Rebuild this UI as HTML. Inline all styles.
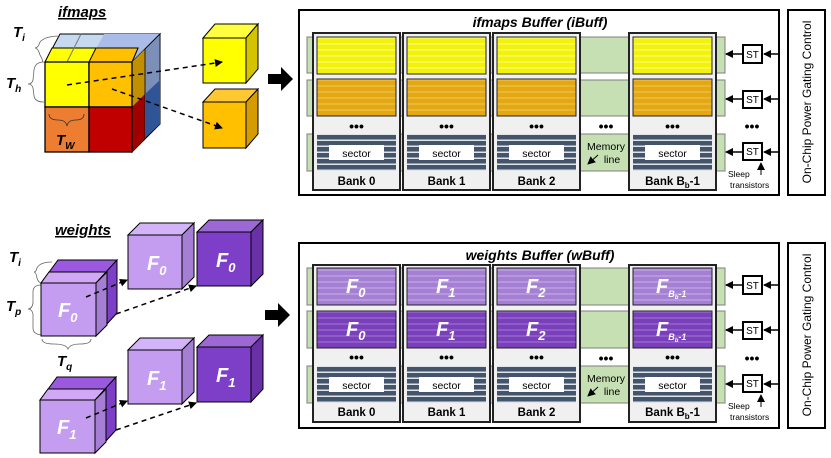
<!DOCTYPE html>
<html><head><meta charset="utf-8"><style>
html,body{margin:0;padding:0;background:#fff;}
svg{display:block;font-family:"Liberation Sans",sans-serif;}
.b{font-weight:bold;}
</style></head><body>
<svg width="831" height="458" viewBox="0 0 831 458" xmlns="http://www.w3.org/2000/svg">
<defs>
<pattern id="py" width="10" height="6" patternUnits="userSpaceOnUse"><rect width="10" height="6" fill="#f2f20a"/><rect y="4.5" width="10" height="1" fill="#fafa90"/></pattern>
<pattern id="po" width="10" height="6" patternUnits="userSpaceOnUse"><rect width="10" height="6" fill="#e4a812"/><rect y="4.5" width="10" height="1" fill="#f0c860"/></pattern>
<pattern id="pl" width="10" height="6" patternUnits="userSpaceOnUse"><rect width="10" height="6" fill="#a47fd4"/><rect y="4.5" width="10" height="1" fill="#c8b0e8"/></pattern>
<pattern id="pd" width="10" height="6" patternUnits="userSpaceOnUse"><rect width="10" height="6" fill="#7a3fba"/><rect y="4.5" width="10" height="1" fill="#a07ad4"/></pattern>
<pattern id="ps" width="10" height="6" patternUnits="userSpaceOnUse"><rect width="10" height="6" fill="#44546a"/><rect y="4.5" width="10" height="1.5" fill="#dfe4ea"/></pattern>
<marker id="ah" markerWidth="8" markerHeight="8" refX="7" refY="4" orient="auto" markerUnits="userSpaceOnUse"><path d="M0,0 L8,4 L0,8 z" fill="#000"/></marker>
</defs>

<!-- ===== IFMAPS CUBE ===== -->
<text x="58" y="17" font-size="15" font-style="italic" class="b" text-decoration="underline">ifmaps</text>
<!-- top face -->
<polygon points="45,62 60,34 160,34 132,62" fill="#c5d9f1" stroke="#000" stroke-width="1"/>
<polygon points="89,62 104,34 160,34 132,62" fill="#a9bde8"/>
<polygon points="45,62 52,48 138,48 132,62" fill="#ffff00" stroke="#000" stroke-width="1"/>
<polygon points="89,62 96,48 138,48 132,62" fill="#ffc000" stroke="#000" stroke-width="1"/>
<line x1="81" y1="34" x2="67" y2="62" stroke="#777"/>
<!-- right face -->
<polygon points="132,62 160,34 160,124 132,152" fill="#4f6fa5" stroke="#000" stroke-width="1"/>
<polygon points="132,62 145,49 145,138 132,152" fill="#c09000"/>
<polygon points="132,107 145,94 145,138 132,152" fill="#a00000"/>
<polygon points="145,49 160,34 160,124 145,138" fill="#7b8fb8" stroke="#000" stroke-width="0.8"/>
<polygon points="145,94 160,80 160,124 145,138" fill="#2f5597"/>
<!-- front -->
<rect x="45" y="62" width="44" height="45" fill="#ffff00" stroke="#000" stroke-width="1.3"/>
<rect x="89" y="62" width="43" height="45" fill="#ffc000" stroke="#000" stroke-width="1.3"/>
<rect x="45" y="107" width="44" height="45" fill="#ed7d31" stroke="#000" stroke-width="1.3"/>
<rect x="89" y="107" width="43" height="45" fill="#c00000" stroke="#000" stroke-width="1.3"/>
<text x="13" y="37" font-size="15" font-style="italic" class="b">T<tspan font-size="10" dy="4">i</tspan></text>
<text x="6" y="88" font-size="15" font-style="italic" class="b">T<tspan font-size="10" dy="4">h</tspan></text>
<text x="56" y="145" font-size="15" font-style="italic" class="b">T<tspan font-size="10" dy="4">W</tspan></text>
<path d="M60,36 Q45,36 40,42 Q38,48 35,48 Q38,48 40,55 Q44,62 42,62" fill="none" stroke="#666" stroke-width="0.8"/>
<path d="M44,62 Q35,62 34,70 L33,80 Q32,84 28,84 Q32,84 33,88 L34,96 Q35,102 44,102" fill="none" stroke="#666" stroke-width="0.8"/>
<path d="M49,114 Q49,120 58,120 Q66,120 67,126 Q68,120 76,120 Q84,120 84,114" fill="none" stroke="#333" stroke-width="0.8"/>
<!-- small cubes -->
<polygon points="203,38 215,24 258,24 246,38" fill="#ffff40" stroke="#000"/>
<polygon points="246,38 258,24 258,69 246,83" fill="#d4c400" stroke="#000"/>
<rect x="203" y="38" width="43" height="45" fill="#ffff00" stroke="#000"/>
<polygon points="203,102 215,89 258,89 246,102" fill="#ffc830" stroke="#000"/>
<polygon points="246,102 258,89 258,134 246,148" fill="#d49c00" stroke="#000"/>
<rect x="203" y="102" width="43" height="46" fill="#ffc000" stroke="#000"/>
<line x1="67" y1="85" x2="222" y2="62" stroke="#000" stroke-width="1.5" stroke-dasharray="5,4" marker-end="url(#ah)"/>
<line x1="112" y1="89" x2="222" y2="128" stroke="#000" stroke-width="1.5" stroke-dasharray="5,4" marker-end="url(#ah)"/>
<polygon points="268,74 281,74 281,67 293,79 281,91 281,84 268,84" fill="#000"/>

<!-- ===== WEIGHTS ===== -->
<text x="55" y="235" font-size="15" font-style="italic" class="b" text-decoration="underline">weights</text>
<text x="9" y="262" font-size="15" font-style="italic" class="b">T<tspan font-size="10" dy="4">i</tspan></text>
<text x="6" y="311" font-size="15" font-style="italic" class="b">T<tspan font-size="10" dy="4">p</tspan></text>
<text x="57" y="366" font-size="15" font-style="italic" class="b">T<tspan font-size="10" dy="4">q</tspan></text>
<path d="M52,262 Q40,262 37,268 Q36,272 34,272 Q36,272 37,278 Q38,282 41,283" fill="none" stroke="#666" stroke-width="0.8"/>
<path d="M41,285 Q33,285 33,292 L33,303 Q32,309 28,309 Q32,309 33,314 L33,328 Q33,334 41,335" fill="none" stroke="#666" stroke-width="0.8"/>
<path d="M42,339 Q42,344 54,344 Q66,344 68,349 Q70,344 80,344 Q91,344 91,339" fill="none" stroke="#666" stroke-width="0.8"/>
<!-- cube F0 big -->
<polygon points="41,283 58,260 117,260 96,283" fill="#9b59e0" stroke="#000"/>
<polygon points="41,283 49,272 107,272 96,283" fill="#d0a8f4" stroke="#000"/>
<polygon points="96,283 117,260 117,313 96,336" fill="#7e3fc8" stroke="#000"/>
<polygon points="96,283 107,272 107,325 96,336" fill="#a47fd4" stroke="#000"/>
<rect x="41" y="283" width="55" height="53" fill="#c49cf0" stroke="#000"/>
<text x="58" y="317" font-size="20" font-style="italic" class="b" fill="#fff">F<tspan font-size="13" dy="5">0</tspan></text>
<!-- cube F1 big -->
<polygon points="40,400 57,377 116,377 95,400" fill="#9b59e0" stroke="#000"/>
<polygon points="40,400 48,389 106,389 95,400" fill="#d0a8f4" stroke="#000"/>
<polygon points="95,400 116,377 116,430 95,453" fill="#7e3fc8" stroke="#000"/>
<polygon points="95,400 106,389 106,442 95,453" fill="#a47fd4" stroke="#000"/>
<rect x="40" y="400" width="55" height="53" fill="#c49cf0" stroke="#000"/>
<text x="57" y="434" font-size="20" font-style="italic" class="b" fill="#fff">F<tspan font-size="13" dy="5">1</tspan></text>
<!-- small F cubes -->
<g stroke="#000">
<polygon points="128,235 140,223 194,223 182,235" fill="#d4b4f8"/>
<polygon points="182,235 194,223 194,277 182,289" fill="#a47fd4"/>
<rect x="128" y="235" width="54" height="54" fill="#c49cf0"/>
<polygon points="197,232 209,220 263,220 251,232" fill="#9b68d4"/>
<polygon points="251,232 263,220 263,274 251,286" fill="#6a30a8"/>
<rect x="197" y="232" width="54" height="54" fill="#7e3fc8"/>
<polygon points="128,350 140,338 194,338 182,350" fill="#d4b4f8"/>
<polygon points="182,350 194,338 194,392 182,404" fill="#a47fd4"/>
<rect x="128" y="350" width="54" height="54" fill="#c49cf0"/>
<polygon points="197,347 209,335 263,335 251,347" fill="#9b68d4"/>
<polygon points="251,347 263,335 263,389 251,402" fill="#6a30a8"/>
<rect x="197" y="347" width="54" height="55" fill="#7e3fc8"/>
</g>
<text x="147" y="270" font-size="20" font-style="italic" class="b" fill="#fff">F<tspan font-size="13" dy="5">0</tspan></text>
<text x="216" y="267" font-size="20" font-style="italic" class="b" fill="#fff">F<tspan font-size="13" dy="5">0</tspan></text>
<text x="147" y="385" font-size="20" font-style="italic" class="b" fill="#fff">F<tspan font-size="13" dy="5">1</tspan></text>
<text x="216" y="382" font-size="20" font-style="italic" class="b" fill="#fff">F<tspan font-size="13" dy="5">1</tspan></text>
<g stroke="#000" stroke-width="1.5" stroke-dasharray="5,4" marker-end="url(#ah)">
<line x1="86" y1="297" x2="127" y2="280"/>
<line x1="116" y1="314" x2="196" y2="286"/>
<line x1="86" y1="418" x2="127" y2="401"/>
<line x1="116" y1="430" x2="196" y2="403"/>
</g>
<polygon points="265,310 278,310 278,303 290,315 278,327 278,320 265,320" fill="#000"/>

<!-- ===== BUFFERS ===== -->
<g id="top">
<rect x="299" y="10" width="480" height="185" fill="#fff" stroke="#000" stroke-width="2"/>
<text x="540" y="27" font-size="14" font-style="italic" class="b" text-anchor="middle">ifmaps Buffer (iBuff)</text>
<g fill="#c6e0b4" stroke="#7f7f7f" stroke-width="1">
<rect x="307" y="37" width="418" height="36"/><rect x="307" y="80" width="418" height="36"/><rect x="307" y="134" width="418" height="37"/>
</g>
<text x="606" y="131" font-size="14" class="b" text-anchor="middle">•••</text>
<text x="606" y="150" font-size="10.5" text-anchor="middle">Memory</text>
<text x="612" y="163" font-size="10.5" text-anchor="middle">line</text>
<line x1="598" y1="155" x2="588" y2="164" stroke="#000" marker-end="url(#ah)"/>
<text x="752" y="131" font-size="14" class="b" text-anchor="middle">•••</text>
<rect x="788" y="10" width="37" height="185" fill="#fff" stroke="#000" stroke-width="2"/>
<text transform="translate(811,102) rotate(-90)" font-size="12" text-anchor="middle">On-Chip Power Gating Control</text>
<g stroke="#000" stroke-width="1.5">
<line x1="779" y1="54" x2="764" y2="54" marker-end="url(#ah)"/><line x1="743" y1="54" x2="726" y2="54" marker-end="url(#ah)"/>
<line x1="779" y1="99" x2="764" y2="99" marker-end="url(#ah)"/><line x1="743" y1="99" x2="726" y2="99" marker-end="url(#ah)"/>
<line x1="779" y1="152" x2="764" y2="152" marker-end="url(#ah)"/><line x1="743" y1="152" x2="726" y2="152" marker-end="url(#ah)"/>
</g>
<g fill="#fff" stroke="#000" stroke-width="2"><rect x="743" y="45" width="19" height="18"/><rect x="743" y="91" width="19" height="17"/><rect x="743" y="143" width="19" height="17"/></g>
<text x="752.5" y="58" font-size="10" text-anchor="middle">ST</text><text x="752.5" y="103" font-size="10" text-anchor="middle">ST</text><text x="752.5" y="155" font-size="10" text-anchor="middle">ST</text>
<line x1="761" y1="175" x2="761" y2="163" stroke="#000" marker-end="url(#ah)"/>
<text x="728" y="177" font-size="8.5">Sleep</text><text x="730" y="188" font-size="8.5">transistors</text>
</g>
<!-- top banks -->
<g>
<g transform="translate(313,33)"><rect width="87" height="157" fill="#f0f0f0" stroke="#222" stroke-width="2"/><rect x="4" y="4" width="79" height="37" fill="url(#py)" stroke="#222"/><rect x="4" y="46" width="79" height="37" fill="url(#po)" stroke="#222"/><text x="43.5" y="98" font-size="14" class="b" text-anchor="middle">•••</text><rect x="4" y="101" width="79" height="37" fill="url(#ps)"/><rect x="16" y="112" width="55" height="15" fill="#fff"/><text x="43.5" y="124" font-size="10.5" text-anchor="middle">sector</text><text x="43.5" y="152" font-size="11.5" class="b" text-anchor="middle">Bank 0</text></g>
<g transform="translate(403,33)"><rect width="87" height="157" fill="#f0f0f0" stroke="#222" stroke-width="2"/><rect x="4" y="4" width="79" height="37" fill="url(#py)" stroke="#222"/><rect x="4" y="46" width="79" height="37" fill="url(#po)" stroke="#222"/><text x="43.5" y="98" font-size="14" class="b" text-anchor="middle">•••</text><rect x="4" y="101" width="79" height="37" fill="url(#ps)"/><rect x="16" y="112" width="55" height="15" fill="#fff"/><text x="43.5" y="124" font-size="10.5" text-anchor="middle">sector</text><text x="43.5" y="152" font-size="11.5" class="b" text-anchor="middle">Bank 1</text></g>
<g transform="translate(493,33)"><rect width="87" height="157" fill="#f0f0f0" stroke="#222" stroke-width="2"/><rect x="4" y="4" width="79" height="37" fill="url(#py)" stroke="#222"/><rect x="4" y="46" width="79" height="37" fill="url(#po)" stroke="#222"/><text x="43.5" y="98" font-size="14" class="b" text-anchor="middle">•••</text><rect x="4" y="101" width="79" height="37" fill="url(#ps)"/><rect x="16" y="112" width="55" height="15" fill="#fff"/><text x="43.5" y="124" font-size="10.5" text-anchor="middle">sector</text><text x="43.5" y="152" font-size="11.5" class="b" text-anchor="middle">Bank 2</text></g>
<g transform="translate(629,33)"><rect width="87" height="157" fill="#f0f0f0" stroke="#222" stroke-width="2"/><rect x="4" y="4" width="79" height="37" fill="url(#py)" stroke="#222"/><rect x="4" y="46" width="79" height="37" fill="url(#po)" stroke="#222"/><text x="43.5" y="98" font-size="14" class="b" text-anchor="middle">•••</text><rect x="4" y="101" width="79" height="37" fill="url(#ps)"/><rect x="16" y="112" width="55" height="15" fill="#fff"/><text x="43.5" y="124" font-size="10.5" text-anchor="middle">sector</text><text x="43.5" y="152" font-size="11.5" class="b" text-anchor="middle">Bank B<tspan font-size="8" dy="3">b</tspan><tspan dy="-3">-1</tspan></text></g>
</g>

<!-- bottom buffer -->
<g transform="translate(0,233)">
<rect x="299" y="10" width="480" height="185" fill="#fff" stroke="#000" stroke-width="2"/>
<text x="540" y="27" font-size="14" font-style="italic" class="b" text-anchor="middle">weights Buffer (wBuff)</text>
<g fill="#c6e0b4" stroke="#7f7f7f" stroke-width="1">
<rect x="307" y="35" width="418" height="37"/><rect x="307" y="78" width="418" height="37"/><rect x="307" y="133" width="418" height="37"/>
</g>
<text x="606" y="130" font-size="14" class="b" text-anchor="middle">•••</text>
<text x="606" y="149" font-size="10.5" text-anchor="middle">Memory</text>
<text x="612" y="162" font-size="10.5" text-anchor="middle">line</text>
<line x1="598" y1="154" x2="588" y2="163" stroke="#000" marker-end="url(#ah)"/>
<text x="752" y="130" font-size="14" class="b" text-anchor="middle">•••</text>
<rect x="788" y="10" width="37" height="185" fill="#fff" stroke="#000" stroke-width="2"/>
<text transform="translate(811,102) rotate(-90)" font-size="12" text-anchor="middle">On-Chip Power Gating Control</text>
<g stroke="#000" stroke-width="1.5">
<line x1="779" y1="52" x2="764" y2="52" marker-end="url(#ah)"/><line x1="743" y1="52" x2="726" y2="52" marker-end="url(#ah)"/>
<line x1="779" y1="97" x2="764" y2="97" marker-end="url(#ah)"/><line x1="743" y1="97" x2="726" y2="97" marker-end="url(#ah)"/>
<line x1="779" y1="151" x2="764" y2="151" marker-end="url(#ah)"/><line x1="743" y1="151" x2="726" y2="151" marker-end="url(#ah)"/>
</g>
<g fill="#fff" stroke="#000" stroke-width="2"><rect x="743" y="43" width="19" height="18"/><rect x="743" y="89" width="19" height="17"/><rect x="743" y="142" width="19" height="17"/></g>
<text x="752.5" y="56" font-size="10" text-anchor="middle">ST</text><text x="752.5" y="101" font-size="10" text-anchor="middle">ST</text><text x="752.5" y="154" font-size="10" text-anchor="middle">ST</text>
<line x1="761" y1="174" x2="761" y2="162" stroke="#000" marker-end="url(#ah)"/>
<text x="728" y="176" font-size="8.5">Sleep</text><text x="730" y="187" font-size="8.5">transistors</text>
</g>
<g>
<g transform="translate(313,265)"><rect width="87" height="157" fill="#f0f0f0" stroke="#222" stroke-width="2"/><rect x="4" y="3" width="79" height="37" fill="url(#pl)" stroke="#222"/><rect x="4" y="46" width="79" height="37" fill="url(#pd)" stroke="#222"/><text x="43.5" y="97" font-size="14" class="b" text-anchor="middle">•••</text><rect x="4" y="101" width="79" height="37" fill="url(#ps)"/><rect x="16" y="112" width="55" height="15" fill="#fff"/><text x="43.5" y="124" font-size="10.5" text-anchor="middle">sector</text><text x="43.5" y="151" font-size="11.5" class="b" text-anchor="middle">Bank 0</text>
<text x="33" y="28" font-size="20" font-style="italic" class="b" fill="#fff">F<tspan font-size="13" dy="4">0</tspan></text><text x="33" y="71" font-size="20" font-style="italic" class="b" fill="#fff">F<tspan font-size="13" dy="4">0</tspan></text></g>
<g transform="translate(403,265)"><rect width="87" height="157" fill="#f0f0f0" stroke="#222" stroke-width="2"/><rect x="4" y="3" width="79" height="37" fill="url(#pl)" stroke="#222"/><rect x="4" y="46" width="79" height="37" fill="url(#pd)" stroke="#222"/><text x="43.5" y="97" font-size="14" class="b" text-anchor="middle">•••</text><rect x="4" y="101" width="79" height="37" fill="url(#ps)"/><rect x="16" y="112" width="55" height="15" fill="#fff"/><text x="43.5" y="124" font-size="10.5" text-anchor="middle">sector</text><text x="43.5" y="151" font-size="11.5" class="b" text-anchor="middle">Bank 1</text>
<text x="33" y="28" font-size="20" font-style="italic" class="b" fill="#fff">F<tspan font-size="13" dy="4">1</tspan></text><text x="33" y="71" font-size="20" font-style="italic" class="b" fill="#fff">F<tspan font-size="13" dy="4">1</tspan></text></g>
<g transform="translate(493,265)"><rect width="87" height="157" fill="#f0f0f0" stroke="#222" stroke-width="2"/><rect x="4" y="3" width="79" height="37" fill="url(#pl)" stroke="#222"/><rect x="4" y="46" width="79" height="37" fill="url(#pd)" stroke="#222"/><text x="43.5" y="97" font-size="14" class="b" text-anchor="middle">•••</text><rect x="4" y="101" width="79" height="37" fill="url(#ps)"/><rect x="16" y="112" width="55" height="15" fill="#fff"/><text x="43.5" y="124" font-size="10.5" text-anchor="middle">sector</text><text x="43.5" y="151" font-size="11.5" class="b" text-anchor="middle">Bank 2</text>
<text x="33" y="28" font-size="20" font-style="italic" class="b" fill="#fff">F<tspan font-size="13" dy="4">2</tspan></text><text x="33" y="71" font-size="20" font-style="italic" class="b" fill="#fff">F<tspan font-size="13" dy="4">2</tspan></text></g>
<g transform="translate(629,265)"><rect width="87" height="157" fill="#f0f0f0" stroke="#222" stroke-width="2"/><rect x="4" y="3" width="79" height="37" fill="url(#pl)" stroke="#222"/><rect x="4" y="46" width="79" height="37" fill="url(#pd)" stroke="#222"/><text x="43.5" y="97" font-size="14" class="b" text-anchor="middle">•••</text><rect x="4" y="101" width="79" height="37" fill="url(#ps)"/><rect x="16" y="112" width="55" height="15" fill="#fff"/><text x="43.5" y="124" font-size="10.5" text-anchor="middle">sector</text><text x="43.5" y="151" font-size="11.5" class="b" text-anchor="middle">Bank B<tspan font-size="8" dy="3">b</tspan><tspan dy="-3">-1</tspan></text>
<text x="27" y="28" font-size="20" font-style="italic" class="b" fill="#fff">F<tspan font-size="9" dy="4">B<tspan font-size="6" dy="2">b</tspan><tspan dy="-2">-1</tspan></tspan></text><text x="27" y="71" font-size="20" font-style="italic" class="b" fill="#fff">F<tspan font-size="9" dy="4">B<tspan font-size="6" dy="2">b</tspan><tspan dy="-2">-1</tspan></tspan></text></g>
</g>
</svg>
</body></html>
